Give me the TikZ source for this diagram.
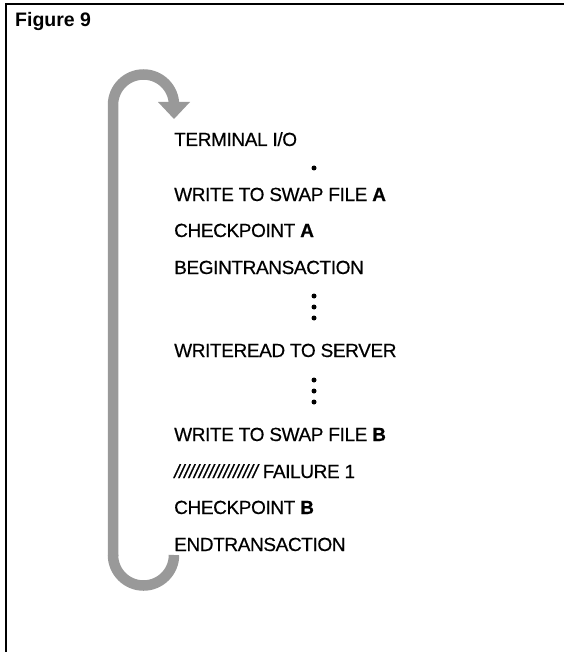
\documentclass[tikz,border=0pt]{standalone}
\usepackage{fontspec}
\setmainfont{Liberation Sans}
\newfontfamily\stepfont[FakeBold=0.5, LetterSpace=-2]{Liberation Sans}
\begin{document}
\begin{tikzpicture}[x=1pt,y=-1pt]
\useasboundingbox (0,0) rectangle (564,652);
\tikzset{
  frameline/.style={line width=1.5pt, black},
  loopband/.style={line width=10.5pt, black!40},
  steptext/.style={font=\stepfont\fontsize{19}{21}\selectfont, anchor=base west, inner sep=0pt},
  ellip/.style={circle, fill=black, inner sep=0pt, minimum size=5pt},
}
% frame (top and left rules)
\draw[frameline] (6,652) -- (6,4) -- (564,4);
\node[anchor=base west, inner sep=0pt, font=\bfseries\fontsize{19.5}{21}\selectfont] (title) at (15,27) {Figure 9};

% return loop
\draw[loopband] (113,556) -- (113,105) arc[start angle=180, end angle=360, radius=30.5];
\fill[black!40] (158,102) -- (190,102) -- (174,119) -- cycle;
\draw[loopband] (113,555) arc[start angle=180, end angle=0, radius=30.5];

% sequence of steps
\node[steptext] (s1) at (174,146) {TERMINAL I/O};
\node[ellip] (e1) at (314,168) {};
\node[steptext] (s2) at (174,201) {WRITE TO SWAP FILE {\bfseries A}};
\node[steptext] (s3) at (174,237) {CHECKPOINT {\bfseries A}};
\node[steptext] (s4) at (174,274) {BEGINTRANSACTION};
\node[ellip] (e2) at (314,296) {};
\node[ellip] (e3) at (314,307) {};
\node[ellip] (e4) at (314,318) {};
\node[steptext] (s5) at (174,357) {WRITEREAD TO SERVER};
\node[ellip] (e5) at (314,380) {};
\node[ellip] (e6) at (314,391) {};
\node[ellip] (e7) at (314,402) {};
\node[steptext] (s6) at (174,441) {WRITE TO SWAP FILE {\bfseries B}};
\node[steptext] (s7) at (174,478) {{\itshape/////////////////} FAILURE 1};
\node[steptext] (s8) at (174,514) {CHECKPOINT {\bfseries B}};
\node[steptext] (s9) at (174,551) {ENDTRANSACTION};
\end{tikzpicture}
\end{document}
